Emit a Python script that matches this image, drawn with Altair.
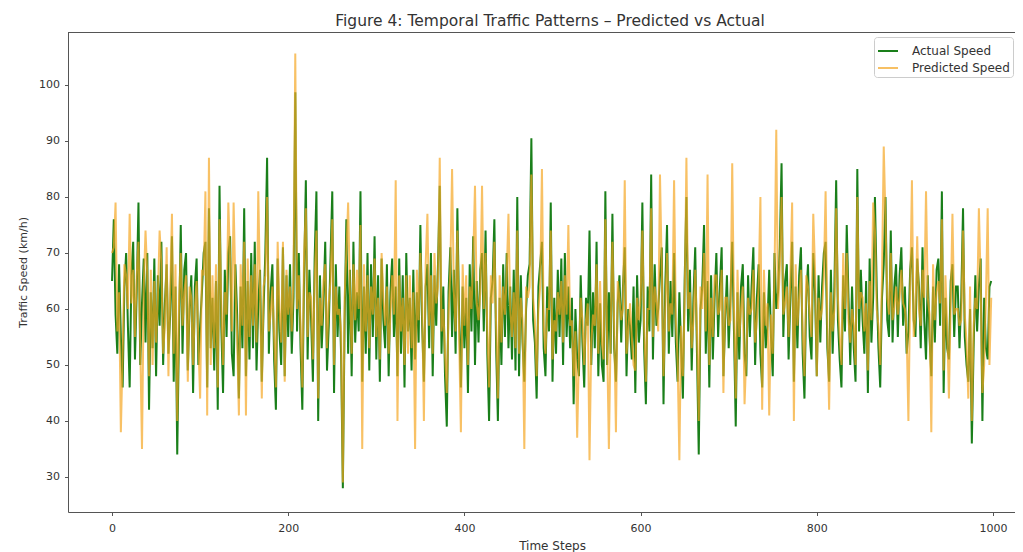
import altair as alt
import pandas as pd

steps = list(range(0, 1000, 2))

actual = [
    65, 76, 59, 52, 68, 55, 46, 64, 70, 57, 46, 66, 72, 51, 63, 79, 50, 61, 69, 54,
    70, 42, 63, 53, 69, 48, 66, 57, 72, 50, 61, 68, 52, 59, 73, 47, 64, 34, 56, 75,
    52, 67, 70, 49, 60, 66, 45, 64, 69, 50, 57, 63, 70, 72, 46, 78, 53, 62, 49, 65,
    42, 82, 57, 45, 67, 55, 70, 73, 52, 48, 68, 59, 44, 64, 53, 78, 48, 65, 51, 70,
    53, 72, 49, 61, 67, 47, 60, 70, 87, 52, 63, 68, 51, 42, 69, 56, 50, 71, 48, 66,
    55, 68, 52, 62, 98.7, 56, 70, 53, 42, 66, 83, 51, 67, 58, 47, 69, 81, 40, 66, 53,
    61, 72, 49, 57, 69, 81, 45, 68, 55, 64, 52, 28, 58, 76, 52, 67, 48, 72, 54, 63,
    56, 81, 47, 64, 52, 70, 49, 68, 55, 73, 51, 66, 47, 69, 58, 53, 68, 48, 63, 69,
    55, 64, 48, 69, 52, 66, 46, 70, 56, 62, 49, 67, 51, 63, 54, 75, 57, 47, 64, 68,
    53, 70, 48, 66, 57, 68, 82, 52, 64, 48, 39, 63, 71, 55, 67, 52, 78, 59, 46, 64,
    53, 62, 45, 68, 56, 73, 50, 65, 54, 67, 70, 56, 74, 52, 40, 62, 65, 76, 53, 40,
    62, 50, 68, 55, 70, 53, 64, 51, 67, 49, 80, 48, 66, 54, 47, 60, 66, 68, 90.5, 58,
    54, 44, 64, 68, 72, 53, 48, 64, 56, 79, 47, 62, 52, 67, 55, 69, 50, 70, 55, 64,
    53, 62, 43, 60, 51, 48, 66, 54, 46, 62, 57, 74, 50, 63, 53, 72, 48, 61, 50, 47,
    81, 50, 63, 52, 77, 53, 47, 61, 66, 54, 64, 71, 48, 60, 57, 51, 64, 45, 66, 54,
    58, 79, 53, 43, 64, 56, 84, 51, 68, 57, 60, 66, 71, 43, 64, 75, 52, 65, 55, 70,
    54, 47, 63, 53, 44, 65, 80, 56, 67, 49, 62, 71, 52, 34, 60, 64, 75, 52, 65, 46,
    66, 51, 62, 70, 55, 64, 71, 48, 58, 66, 53, 62, 72, 56, 39, 63, 51, 64, 68, 52,
    48, 66, 55, 64, 71, 50, 62, 68, 52, 46, 63, 53, 57, 67, 55, 48, 70, 60, 63, 71,
    86, 55, 65, 68, 51, 62, 72, 47, 64, 53, 66, 71, 52, 44, 62, 68, 55, 51, 70, 63,
    48, 66, 54, 64, 70, 72, 53, 47, 67, 52, 64, 83, 58, 51, 46, 66, 56, 75, 62, 50,
    64, 53, 47, 85, 56, 67, 58, 52, 65, 45, 69, 54, 62, 80, 64, 53, 46, 62, 68, 80,
    58, 55, 74, 54, 64, 68, 55, 66, 71, 57, 64, 52, 56, 67, 71, 58, 55, 69, 64, 53,
    71, 58, 51, 66, 55, 48, 64, 54, 67, 69, 57, 81, 45, 62, 53, 51, 65, 68, 55, 64,
    64, 53, 62, 78, 55, 50, 47, 60, 36, 53, 66, 56, 64, 69, 40, 62, 53, 51, 64, 65,
]

predicted = [
    70, 71, 79, 56, 63, 38, 52, 68, 66, 60, 77, 61, 67, 55, 66, 72, 54, 35, 64, 74,
    66, 48, 67, 50, 65, 54, 62, 74, 68, 52, 57, 71, 48, 63, 77, 52, 68, 40, 61, 70,
    57, 63, 66, 47, 64, 62, 50, 60, 65, 54, 44, 67, 66, 81, 41, 87, 50, 66, 53, 68,
    46, 76, 61, 50, 63, 59, 79, 69, 56, 79, 64, 55, 41, 68, 57, 72, 41, 69, 55, 66,
    57, 68, 54, 81, 63, 44, 64, 66, 80, 56, 59, 64, 55, 46, 72, 60, 54, 72, 47, 67,
    59, 64, 56, 66, 105.6, 60, 66, 57, 46, 70, 78, 55, 63, 62, 51, 65, 74, 44, 62, 57,
    65, 68, 53, 61, 65, 76, 50, 64, 59, 60, 56, 29, 62, 70, 79, 63, 52, 68, 58, 67,
    60, 75, 35, 68, 56, 66, 53, 64, 59, 69, 55, 62, 51, 70, 62, 57, 64, 52, 59, 66,
    59, 83, 40, 66, 56, 62, 50, 66, 52, 66, 53, 63, 35, 67, 58, 70, 61, 40, 68, 77,
    57, 66, 52, 70, 61, 64, 87, 56, 60, 52, 45, 59, 67, 85, 63, 56, 74, 55, 38, 68,
    57, 66, 50, 64, 60, 69, 82, 61, 58, 63, 82, 60, 70, 56, 46, 66, 61, 72, 57, 44,
    66, 54, 64, 59, 66, 77, 60, 55, 63, 53, 74, 52, 62, 58, 35, 64, 62, 64, 84, 62,
    58, 48, 60, 64, 85, 57, 52, 60, 60, 74, 51, 58, 56, 63, 59, 65, 54, 66, 59, 75,
    57, 58, 48, 56, 37, 52, 62, 58, 50, 58, 61, 33, 54, 59, 57, 68, 52, 65, 54, 51,
    76, 54, 35, 56, 72, 57, 38, 65, 62, 58, 60, 83, 52, 56, 61, 55, 50, 49, 62, 58,
    62, 74, 57, 47, 60, 60, 78, 55, 64, 61, 56, 84, 67, 48, 60, 70, 56, 61, 59, 83,
    58, 51, 33, 57, 48, 61, 87, 60, 63, 53, 58, 67, 56, 40, 64, 60, 70, 56, 84, 50,
    62, 55, 66, 66, 59, 60, 67, 45, 62, 62, 57, 58, 86, 60, 44, 67, 55, 60, 64, 43,
    52, 62, 59, 60, 67, 54, 58, 64, 80, 42, 67, 57, 61, 41, 59, 52, 66, 92, 60, 67,
    80, 59, 61, 64, 55, 66, 79, 40, 68, 57, 62, 67, 56, 48, 66, 64, 59, 55, 77, 67,
    48, 62, 58, 60, 66, 81, 57, 42, 63, 56, 60, 78, 62, 55, 50, 70, 60, 70, 58, 54,
    60, 57, 50, 80, 60, 63, 62, 56, 61, 49, 65, 58, 79, 74, 60, 57, 50, 66, 89, 76,
    62, 59, 70, 58, 60, 64, 59, 62, 67, 61, 60, 56, 40, 63, 83, 55, 59, 73, 60, 57,
    67, 62, 81, 62, 59, 38, 68, 58, 63, 65, 61, 76, 49, 66, 57, 44, 61, 77, 59, 60,
    60, 57, 58, 74, 59, 54, 44, 64, 40, 57, 62, 60, 78, 65, 45, 50, 62, 78, 50, 62,
]

assert len(actual) == len(steps) and len(predicted) == len(steps)

series_names = ["Actual Speed", "Predicted Speed"]
series_colors = ["#1a7f1a", "#F5A623"]
x_ticks = [0, 200, 400, 600, 800, 1000]
y_ticks = [30, 40, 50, 60, 70, 80, 90, 100]

df = pd.DataFrame({
    "t": steps + steps,
    "speed": actual + predicted,
    "series": [series_names[0]] * len(steps) + [series_names[1]] * len(steps),
})

W, H = 947, 480
FONT = "DejaVu Sans"
TXT = "#333333"

legend_kw = dict(title=None, orient="none", legendX=806, legendY=5)

lines = alt.Chart(df).mark_line(strokeWidth=2, clip=True).encode(
    x=alt.X("t:Q",
            scale=alt.Scale(domain=[-50, 1025], nice=False, zero=False),
            axis=alt.Axis(values=x_ticks, format="d", title="Time Steps", grid=False,
                          labelPadding=7, titleFontSize=12,
                          titleX=484, titleY=33, titleBaseline="middle",
                          titleAlign="center")),
    y=alt.Y("speed:Q",
            scale=alt.Scale(domain=[23.75, 109.46], nice=False, zero=False),
            axis=alt.Axis(values=y_ticks, title="Traffic Speed (km/h)", grid=False,
                          labelPadding=5,
                          titleX=-45, titleY=240, titleAngle=270,
                          titleBaseline="middle", titleAlign="center")),
    color=alt.Color("series:N",
                    scale=alt.Scale(domain=series_names, range=series_colors),
                    legend=alt.Legend(**legend_kw)),
    opacity=alt.Opacity("series:N",
                        scale=alt.Scale(domain=series_names, range=[1.0, 0.7]),
                        legend=alt.Legend(**legend_kw)),
)

top_spine = alt.Chart(df).mark_rule(color="#555555", strokeWidth=1).encode(
    x=alt.value(0), x2=alt.value(W), y=alt.value(0.5)
)

chart = alt.layer(lines, top_spine).properties(
    width=W,
    height=H,
    title=alt.TitleParams(
        "Figure 4: Temporal Traffic Patterns \u2013 Predicted vs Actual",
        anchor="middle", dx=8.5, offset=3, fontSize=15.5, font=FONT,
        fontWeight="normal", color=TXT,
    ),
    autosize=alt.AutoSizeParams(type="none"),
    padding={"left": 60, "top": 24, "right": 0, "bottom": 40},
).configure_view(
    stroke=None
).configure_axis(
    domainColor="#555555", domainWidth=1, tickColor="#555555", tickWidth=1, tickSize=3.5,
    labelFont=FONT, labelFontSize=11, labelColor=TXT,
    titleFont=FONT, titleFontSize=11, titleFontWeight="normal", titleColor=TXT,
).configure_legend(
    labelFont=FONT, labelFontSize=12, labelColor=TXT,
    symbolType="stroke", symbolSize=400, symbolStrokeWidth=2,
    strokeColor="#cccccc", fillColor="white", padding=3, cornerRadius=3,
    rowPadding=0, labelOffset=13,
)

chart.save("out.html", embed_options={"renderer": "svg", "actions": False})
